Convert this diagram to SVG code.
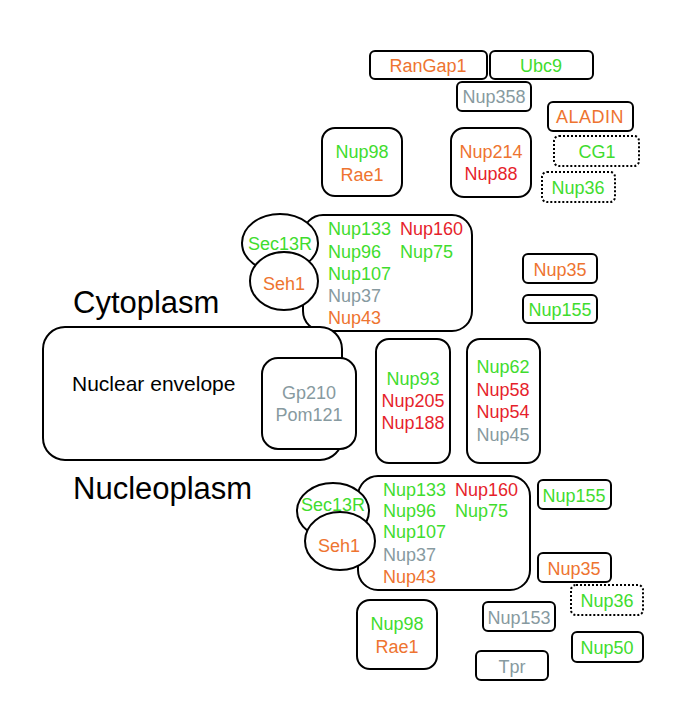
<svg xmlns="http://www.w3.org/2000/svg" width="685" height="710" viewBox="0 0 685 710">
<style>
text{font-family:"Liberation Sans",Arial,sans-serif;font-size:18px}
.c{text-anchor:middle}
.g{fill:#3fdc2e}.o{fill:#ee7430}.r{fill:#e61f2c}.s{fill:#879aa0}.k{fill:#000}
.b{fill:#fff;stroke:#000;stroke-width:2}
.d{fill:#fff;stroke:#000;stroke-width:2;stroke-dasharray:2 2}
.big{font-size:31px}
.ne{font-size:21px}
</style>
<rect width="685" height="710" fill="#fff"/>
<g id="labels">
<text class="k big" x="73" y="313">Cytoplasm</text>
<text class="k big" x="73" y="499">Nucleoplasm</text>
</g>
<g id="connectors"/>
<g id="ranGap1"><rect class="b" x="370" y="51" width="117" height="28" rx="5"/><text class="c o" x="428" y="72">RanGap1</text></g>
<g id="ubc9"><rect class="b" x="490" y="51" width="103" height="28" rx="5"/><text class="c g" x="541" y="72">Ubc9</text></g>
<g id="nup358"><rect class="b" x="457" y="82" width="74" height="29" rx="5"/><text class="c s" x="494" y="103">Nup358</text></g>
<g id="aladin"><rect class="b" x="548" y="102" width="85" height="29" rx="5"/><text class="c o" x="590" y="123" letter-spacing="0.5">ALADIN</text></g>
<g id="cg1"><rect class="d" x="554" y="136" width="85" height="30" rx="5"/><text class="c g" x="597" y="158">CG1</text></g>
<g id="nup36top"><rect class="d" x="542" y="172" width="73" height="30" rx="5"/><text class="c g" x="578" y="194">Nup36</text></g>
<g id="nup98top"><rect class="b" x="322" y="128" width="80" height="68" rx="13"/><text class="c g" x="362" y="158">Nup98</text><text class="c o" x="362" y="181">Rae1</text></g>
<g id="nup214"><rect class="b" x="451" y="128" width="80" height="69" rx="13"/><text class="c o" x="491" y="158">Nup214</text><text class="c r" x="491" y="180">Nup88</text></g>
<g id="yComplexTop">
<rect class="b" x="303" y="215" width="169" height="116" rx="20"/>
<text class="g" x="328" y="235">Nup133</text><text class="r" x="400" y="235">Nup160</text>
<text class="g" x="328" y="258">Nup96</text><text class="g" x="400" y="258">Nup75</text>
<text class="g" x="328" y="280">Nup107</text>
<text class="s" x="328" y="302">Nup37</text>
<text class="o" x="328" y="324">Nup43</text>
</g>
<g id="sec13rTop"><ellipse class="b" cx="280" cy="243" rx="38" ry="29"/><text class="c g" x="280" y="250">Sec13R</text></g>
<g id="seh1Top"><ellipse class="b" cx="284" cy="281" rx="34" ry="29"/><text class="c o" x="284" y="290">Seh1</text></g>
<g id="nup35top"><rect class="b" x="523" y="254" width="74" height="29" rx="5"/><text class="c o" x="560" y="276">Nup35</text></g>
<g id="nup155top"><rect class="b" x="523" y="295" width="74" height="28" rx="5"/><text class="c g" x="560" y="316">Nup155</text></g>
<g id="nuclearEnvelope"><rect class="b" x="43" y="327" width="299" height="133" rx="22"/><text class="k ne" x="72" y="391">Nuclear envelope</text></g>
<g id="gp210"><rect class="b" x="262" y="358" width="94" height="91" rx="16"/><text class="c s" x="309" y="399">Gp210</text><text class="c s" x="309" y="421">Pom121</text></g>
<g id="nup93"><rect class="b" x="376" y="339" width="74" height="124" rx="13"/><text class="c g" x="413" y="385">Nup93</text><text class="c r" x="413" y="407">Nup205</text><text class="c r" x="413" y="429">Nup188</text></g>
<g id="nup62"><rect class="b" x="467" y="339" width="73" height="124" rx="13"/><text class="c g" x="503" y="373">Nup62</text><text class="c r" x="503" y="396">Nup58</text><text class="c r" x="503" y="418">Nup54</text><text class="c s" x="503" y="441">Nup45</text></g>
<g id="yComplexBottom">
<rect class="b" x="358" y="476" width="172" height="114" rx="20"/>
<text class="g" x="383" y="496">Nup133</text><text class="r" x="455" y="496">Nup160</text>
<text class="g" x="383" y="517">Nup96</text><text class="g" x="455" y="517">Nup75</text>
<text class="g" x="383" y="538">Nup107</text>
<text class="s" x="383" y="561">Nup37</text>
<text class="o" x="383" y="583">Nup43</text>
</g>
<g id="sec13rBottom"><ellipse class="b" cx="333" cy="511" rx="36" ry="28"/><text class="c g" x="333" y="511">Sec13R</text></g>
<g id="seh1Bottom"><ellipse class="b" cx="340" cy="541" rx="35" ry="29"/><text class="c o" x="339" y="552">Seh1</text></g>
<g id="nup155bottom"><rect class="b" x="538" y="480" width="73" height="29" rx="5"/><text class="c g" x="574" y="502">Nup155</text></g>
<g id="nup35bottom"><rect class="b" x="538" y="553" width="73" height="29" rx="5"/><text class="c o" x="574" y="575">Nup35</text></g>
<g id="nup36bottom"><rect class="d" x="571" y="585" width="72" height="30" rx="5"/><text class="c g" x="607" y="607">Nup36</text></g>
<g id="nup153"><rect class="b" x="483" y="602" width="72" height="29" rx="5"/><text class="c s" x="519" y="624">Nup153</text></g>
<g id="nup98bottom"><rect class="b" x="357" y="600" width="80" height="69" rx="13"/><text class="c g" x="397" y="630">Nup98</text><text class="c o" x="397" y="653">Rae1</text></g>
<g id="tpr"><rect class="b" x="476" y="651" width="72" height="29" rx="5"/><text class="c s" x="512" y="673">Tpr</text></g>
<g id="nup50"><rect class="b" x="572" y="632" width="71" height="30" rx="5"/><text class="c g" x="607" y="654">Nup50</text></g>
</svg>
